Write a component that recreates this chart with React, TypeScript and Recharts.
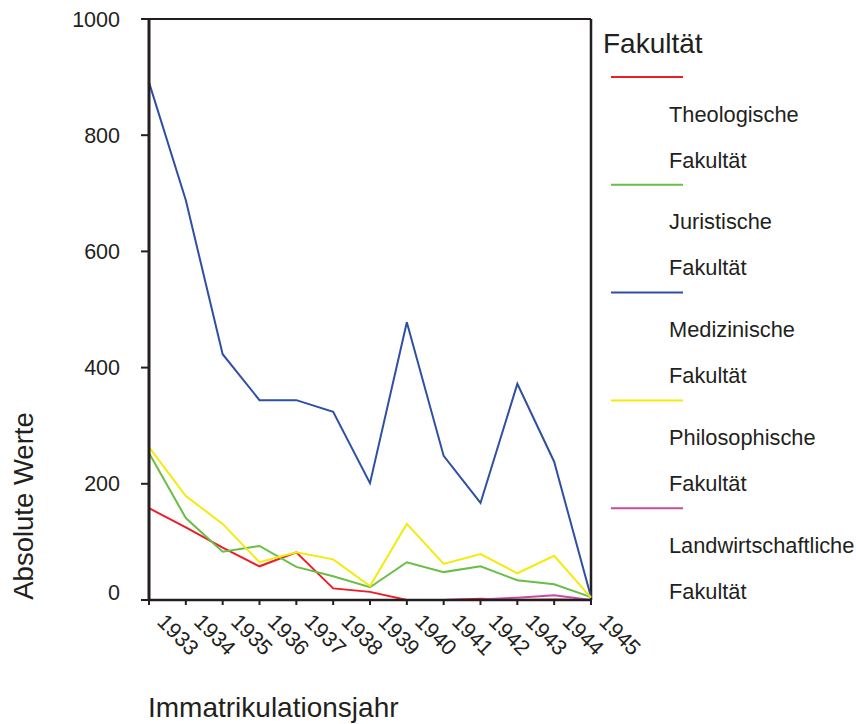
import React from 'react';
import { LineChart, Line, XAxis, YAxis, ReferenceLine, Label } from 'recharts';

const years = ['1933', '1934', '1935', '1936', '1937', '1938', '1939', '1940', '1941', '1942', '1943', '1944', '1945'];
const theologische = [158, 125, 90, 58, 82, 20, 14, 0, 0, 2, 0, 1, 0];
const juristische = [253, 141, 83, 93, 57, 41, 22, 65, 48, 58, 34, 27, 5];
const medizinische = [891, 688, 423, 344, 344, 324, 201, 478, 248, 167, 372, 238, 5];
const philosophische = [263, 179, 131, 65, 82, 70, 24, 131, 62, 79, 46, 76, 4];
const landwirtschaftliche = [0, 0, 0, 0, 0, 0, 0, 0, 0, 1, 4, 8, 0];
const yTicks = [0, 200, 400, 600, 800, 1000];

const series = [
  { key: 'theo', name: 'Theologische', color: '#ee1c25', values: theologische },
  { key: 'jur', name: 'Juristische', color: '#6abd45', values: juristische },
  { key: 'med', name: 'Medizinische', color: '#2e4fa3', values: medizinische },
  { key: 'phil', name: 'Philosophische', color: '#f4ea0c', values: philosophische },
  { key: 'land', name: 'Landwirtschaftliche', color: '#c64ba0', values: landwirtschaftliche },
];

const data = years.map((y, i) => {
  const row: any = { year: y };
  series.forEach((s) => { row[s.key] = s.values[i]; });
  return row;
});

const FONT = '"Liberation Sans", Arial, Helvetica, sans-serif';
const INK = '#231f20';

const XTick = (props: any) => {
  const { x, y, payload } = props;
  return (
    <g transform={`translate(${x + 7},${y + 18}) rotate(45)`}>
      <text x={0} y={0} textAnchor="start" fontSize={21.5} fontFamily={FONT} fill={INK}>
        {payload.value}
      </text>
    </g>
  );
};

const YTick = (props: any) => {
  const { x, y, payload } = props;
  const shift = payload.value === 0 ? -8 : 0;
  return (
    <text x={x} y={y + shift} dy="0.355em" textAnchor="end" fontSize={21.5} fontFamily={FONT} fill={INK}>
      {payload.value}
    </text>
  );
};

export default function App() {
  return (
    <div style={{ position: 'absolute', left: 0, top: 0, width: 856, height: 724, background: '#fff' }}>
      <LineChart
        width={856}
        height={724}
        data={data}
        margin={{ top: 19, right: 265, bottom: 64, left: 49 }}
      >
        <XAxis
          dataKey="year"
          height={60}
          interval={0}
          tick={<XTick />}
          tickSize={5}
          tickMargin={0}
          axisLine={{ stroke: INK, strokeWidth: 2.5 }}
          tickLine={{ stroke: INK, strokeWidth: 2 }}
        >
          <Label
            content={() => (
              <text x={148} y={717} fontSize={28} fontFamily={FONT} fill={INK} textAnchor="start">
                Immatrikulationsjahr
              </text>
            )}
          />
        </XAxis>
        <YAxis
          width={100}
          domain={[0, 1000]}
          ticks={yTicks}
          interval={0}
          tickSize={8}
          tickMargin={21}
          tick={<YTick />}
          axisLine={{ stroke: INK, strokeWidth: 3 }}
          tickLine={{ stroke: INK, strokeWidth: 2 }}
        >
          <Label
            content={() => (
              <text
                x={33}
                y={506}
                transform="rotate(-90, 33, 506)"
                fontSize={27.5}
                fontFamily={FONT}
                fill={INK}
                textAnchor="middle"
              >
                Absolute Werte
              </text>
            )}
          />
        </YAxis>
        <ReferenceLine y={1000} stroke={INK} strokeWidth={2} />
        <ReferenceLine x="1945" stroke={INK} strokeWidth={2.5} />
        {series.map((s) => (
          <Line
            key={s.key}
            type="linear"
            dataKey={s.key}
            name={s.name}
            stroke={s.color}
            strokeWidth={2}
            dot={false}
            activeDot={false}
            isAnimationActive={false}
          />
        ))}
      </LineChart>
      <svg width={856} height={724} style={{ position: 'absolute', left: 0, top: 0, pointerEvents: 'none' }}>
        <text x={603} y={43} dominantBaseline="central" fontSize={28} fontFamily={FONT} fill={INK}>
          Fakultät
        </text>
        {series.map((s, i) => {
          const ly = 77 + i * 107.8;
          return (
            <g key={s.key}>
              <line x1={611} x2={683} y1={ly} y2={ly} stroke={s.color} strokeWidth={2} />
              <text x={669} y={ly + 37} dominantBaseline="central" fontSize={21.8} fontFamily={FONT} fill={INK}>
                {s.name}
              </text>
              <text x={669} y={ly + 83} dominantBaseline="central" fontSize={21.8} fontFamily={FONT} fill={INK}>
                Fakultät
              </text>
            </g>
          );
        })}
      </svg>
    </div>
  );
}
